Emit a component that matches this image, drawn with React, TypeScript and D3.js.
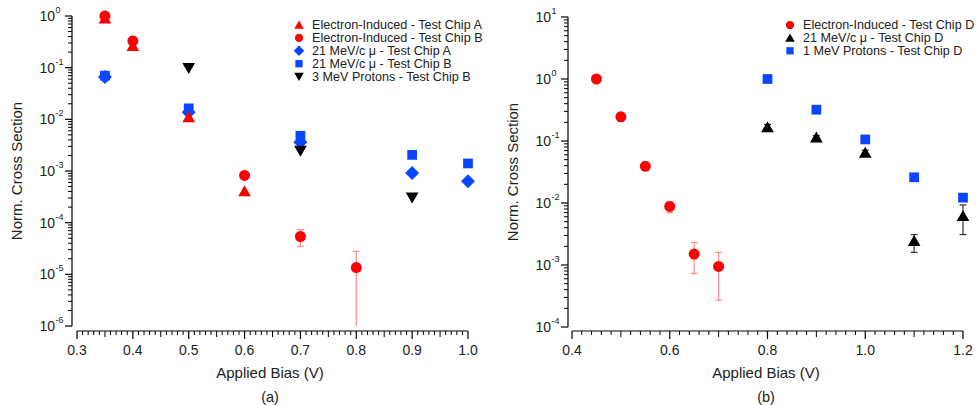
import React from "react";
import * as d3 from "d3";

// ---------- Data: panel (a) ----------
const aElecA_x = [0.35, 0.4, 0.5, 0.6];
const aElecA_y = [0.88, 0.26, 0.0108, 0.0004];

const aElecB_x = [0.35, 0.4, 0.6, 0.7, 0.8];
const aElecB_y = [1.0, 0.33, 0.00082, 0.000054, 0.0000135];
const aElecB_lo = [null, null, null, 0.000035, 0.000001];
const aElecB_hi = [null, null, null, 0.000073, 0.000028];

const aMuA_x = [0.35, 0.5, 0.7, 0.9, 1.0];
const aMuA_y = [0.066, 0.0137, 0.0036, 0.00091, 0.00063];

const aMuB_x = [0.35, 0.5, 0.7, 0.9, 1.0];
const aMuB_y = [0.07, 0.0163, 0.0048, 0.00205, 0.0014];

const aProt_x = [0.5, 0.7, 0.9];
const aProt_y = [0.1, 0.0025, 0.00031];

const aXTicks = [0.3, 0.4, 0.5, 0.6, 0.7, 0.8, 0.9, 1.0];
const aYExps = [0, -1, -2, -3, -4, -5, -6];

// ---------- Data: panel (b) ----------
const bElec_x = [0.45, 0.5, 0.55, 0.6, 0.65, 0.7];
const bElec_y = [1.0, 0.245, 0.039, 0.0088, 0.0015, 0.00095];
const bElec_lo = [null, 0.21, null, 0.007, 0.00073, 0.00027];
const bElec_hi = [null, 0.28, null, 0.0105, 0.0023, 0.0016];

const bMu_x = [0.8, 0.9, 1.0, 1.1, 1.2];
const bMu_y = [0.165, 0.112, 0.064, 0.0024, 0.0061];
const bMu_lo = [0.145, 0.102, 0.057, 0.0016, 0.0031];
const bMu_hi = [0.185, 0.122, 0.071, 0.0031, 0.0093];

const bProt_x = [0.8, 0.9, 1.0, 1.1, 1.2];
const bProt_y = [1.0, 0.32, 0.106, 0.026, 0.0122];

const bXTicks = [0.4, 0.6, 0.8, 1.0, 1.2];
const bYExps = [1, 0, -1, -2, -3, -4];

const legendA = [
  "Electron-Induced - Test Chip A",
  "Electron-Induced - Test Chip B",
  "21 MeV/c \u03bc - Test Chip A",
  "21 MeV/c \u03bc - Test Chip B",
  "3 MeV Protons - Test Chip B",
];
const legendB = [
  "Electron-Induced - Test Chip D",
  "21 MeV/c \u03bc - Test Chip D",
  "1 MeV Protons - Test Chip D",
];

const RED = "#ff0000";
const BLUE = "#0a46ff";
const BLACK = "#000000";
const ERR_RED = "#ff8c8c";
const FONT = "'Liberation Sans', Arial, Helvetica, sans-serif";

type Shape = "triUp" | "triDown" | "circle" | "diamond" | "square";

function symPath(shape: Shape, scale = 1) {
  const s = {
    triUp: d3.symbol(d3.symbolTriangle, 70 * scale * scale),
    triDown: d3.symbol(d3.symbolTriangle, 70 * scale * scale),
    circle: d3.symbol(d3.symbolCircle, 95 * scale * scale),
    diamond: d3.symbol(d3.symbolDiamond2, 125 * scale * scale),
    square: d3.symbol(d3.symbolSquare, 95 * scale * scale),
  }[shape];
  return s() as string;
}

function Marker({ x, y, shape, color, scale = 1 }: any) {
  const rot = shape === "triDown" ? 180 : 0;
  const dy = shape === "triUp" ? 1 : shape === "triDown" ? -1 : 0;
  return (
    <path
      d={symPath(shape, scale)}
      transform={`translate(${x},${y + dy}) rotate(${rot})`}
      fill={color}
    />
  );
}

function Series({ xs, ys, lo, hi, sx, sy, shape, color, errColor }: any) {
  return (
    <g>
      {lo &&
        xs.map((x: number, i: number) =>
          lo[i] == null ? null : (
            <g key={"e" + i} stroke={errColor} strokeWidth={1.2}>
              <line x1={sx(x)} x2={sx(x)} y1={sy(lo[i])} y2={sy(hi[i])} />
              <line x1={sx(x) - 3.5} x2={sx(x) + 3.5} y1={sy(hi[i])} y2={sy(hi[i])} />
              {lo[i] > sy.domain()[0] * 1.01 ? (
                <line x1={sx(x) - 3.5} x2={sx(x) + 3.5} y1={sy(lo[i])} y2={sy(lo[i])} />
              ) : null}
            </g>
          )
        )}
      {xs.map((x: number, i: number) => (
        <Marker key={i} x={sx(x)} y={sy(ys[i])} shape={shape} color={color} />
      ))}
    </g>
  );
}

function Panel({ sx, sy, xTicks, yExps, minorStep, midStep, axisX, axisY, xFmt, label, titleX }: any) {
  const [x0, x1] = sx.domain();
  const [yLo, yHi] = sy.domain();
  const nMinor = Math.round((x1 - x0) / minorStep);
  const minors: number[] = d3.range(nMinor + 1).map((i) => x0 + i * minorStep);
  const yMinors: number[] = [];
  const eLo = Math.round(Math.log10(yLo));
  const eHi = Math.round(Math.log10(yHi));
  for (let e = eLo; e < eHi; e++) {
    for (let k = 2; k <= 9; k++) yMinors.push(k * Math.pow(10, e));
  }
  const xr = sx.range();
  const yr = sy.range();
  const midY = (yr[0] + yr[1]) / 2;
  return (
    <g fontFamily={FONT}>
      {/* y axis */}
      <line x1={axisX} x2={axisX} y1={yr[1]} y2={yr[0]} stroke="#000" strokeWidth={1.2} />
      {yExps.map((e: number) => (
        <g key={e}>
          <line x1={axisX - 7} x2={axisX} y1={sy(Math.pow(10, e))} y2={sy(Math.pow(10, e))} stroke="#000" strokeWidth={1.2} />
          <text x={axisX - 17} y={sy(Math.pow(10, e)) + 5} textAnchor="end" fontSize={14} fill="#222">
            10
          </text>
          <text x={axisX - 16.5} y={sy(Math.pow(10, e)) - 3} textAnchor="start" fontSize={9} fill="#222">
            {e < 0 ? "-" + -e : String(e)}
          </text>
        </g>
      ))}
      {yMinors.map((v, i) => (
        <line key={i} x1={axisX - 4} x2={axisX} y1={sy(v)} y2={sy(v)} stroke="#000" strokeWidth={1} />
      ))}
      {/* x axis */}
      <line x1={xr[0]} x2={xr[1]} y1={axisY} y2={axisY} stroke="#000" strokeWidth={1.2} />
      {minors.map((v, i) => {
        const isMajor = xTicks.some((t: number) => Math.abs(t - v) < 1e-6);
        const isMid = !isMajor && Math.abs(v / midStep - Math.round(v / midStep)) < 1e-6;
        const len = isMajor ? 8 : isMid ? 6 : 4;
        return (
          <line key={i} x1={sx(v)} x2={sx(v)} y1={axisY} y2={axisY + len} stroke="#000" strokeWidth={isMajor ? 1.2 : 1} />
        );
      })}
      {xTicks.map((t: number) => (
        <text key={t} x={sx(t)} y={axisY + 24} textAnchor="middle" fontSize={14} fill="#222">
          {xFmt(t)}
        </text>
      ))}
      <text x={titleX} y={axisY + 47} textAnchor="middle" fontSize={15} fill="#222">
        Applied Bias (V)
      </text>
      <text x={titleX} y={axisY + 71} textAnchor="middle" fontSize={14.5} fill="#222">
        {label}
      </text>
      <text
        transform={`translate(${axisX - 50},${midY}) rotate(-90)`}
        textAnchor="middle"
        fontSize={15}
        fill="#222"
      >
        Norm. Cross Section
      </text>
    </g>
  );
}

function Legend({ x, y, items, shapes, colors }: any) {
  return (
    <g fontFamily={FONT}>
      {items.map((t: string, i: number) => (
        <g key={i}>
          <Marker x={x} y={y + i * 12.9} shape={shapes[i]} color={colors[i]} scale={0.75} />
          <text x={x + 13} y={y + i * 12.9 + 4.3} fontSize={12.6} fill="#222">
            {t}
          </text>
        </g>
      ))}
    </g>
  );
}

export default function App() {
  const W = 977;
  const H = 405;
  const sxA = d3.scaleLinear().domain([0.3, 1.0]).range([77, 468]);
  const syA = d3.scaleLog().domain([1e-6, 1]).range([326, 16]);
  const sxB = d3.scaleLinear().domain([0.4, 1.2]).range([572, 963]);
  const syB = d3.scaleLog().domain([1e-4, 10]).range([327, 17]);
  const f1 = d3.format(".1f");

  return (
    <svg width={W} height={H} style={{ position: "absolute", left: 0, top: 0, background: "#fff" }}>
      <rect width={W} height={H} fill="#fff" />
      <Panel sx={sxA} sy={syA} xTicks={aXTicks} yExps={aYExps} minorStep={0.01} midStep={0.05}
        axisX={72} axisY={331} xFmt={f1} label="(a)" titleX={270} />
      <Panel sx={sxB} sy={syB} xTicks={bXTicks} yExps={bYExps} minorStep={0.02} midStep={0.1}
        axisX={568} axisY={331} xFmt={f1} label="(b)" titleX={766} />

      {/* panel (a) series */}
      <Series xs={aMuB_x} ys={aMuB_y} sx={sxA} sy={syA} shape="square" color={BLUE} />
      <Series xs={aMuA_x} ys={aMuA_y} sx={sxA} sy={syA} shape="diamond" color={BLUE} />
      <Series xs={aProt_x} ys={aProt_y} sx={sxA} sy={syA} shape="triDown" color={BLACK} />
      <Series xs={aElecA_x} ys={aElecA_y} sx={sxA} sy={syA} shape="triUp" color={RED} />
      <Series xs={aElecB_x} ys={aElecB_y} lo={aElecB_lo} hi={aElecB_hi} sx={sxA} sy={syA}
        shape="circle" color={RED} errColor={ERR_RED} />

      {/* panel (b) series */}
      <Series xs={bProt_x} ys={bProt_y} sx={sxB} sy={syB} shape="square" color={BLUE} />
      <Series xs={bMu_x} ys={bMu_y} lo={bMu_lo} hi={bMu_hi} sx={sxB} sy={syB}
        shape="triUp" color={BLACK} errColor="#333" />
      <Series xs={bElec_x} ys={bElec_y} lo={bElec_lo} hi={bElec_hi} sx={sxB} sy={syB}
        shape="circle" color={RED} errColor={ERR_RED} />

      <Legend x={299} y={25} items={legendA}
        shapes={["triUp", "circle", "diamond", "square", "triDown"]}
        colors={[RED, RED, BLUE, BLUE, BLACK]} />
      <Legend x={790} y={25} items={legendB}
        shapes={["circle", "triUp", "square"]}
        colors={[RED, BLACK, BLUE]} />
    </svg>
  );
}
